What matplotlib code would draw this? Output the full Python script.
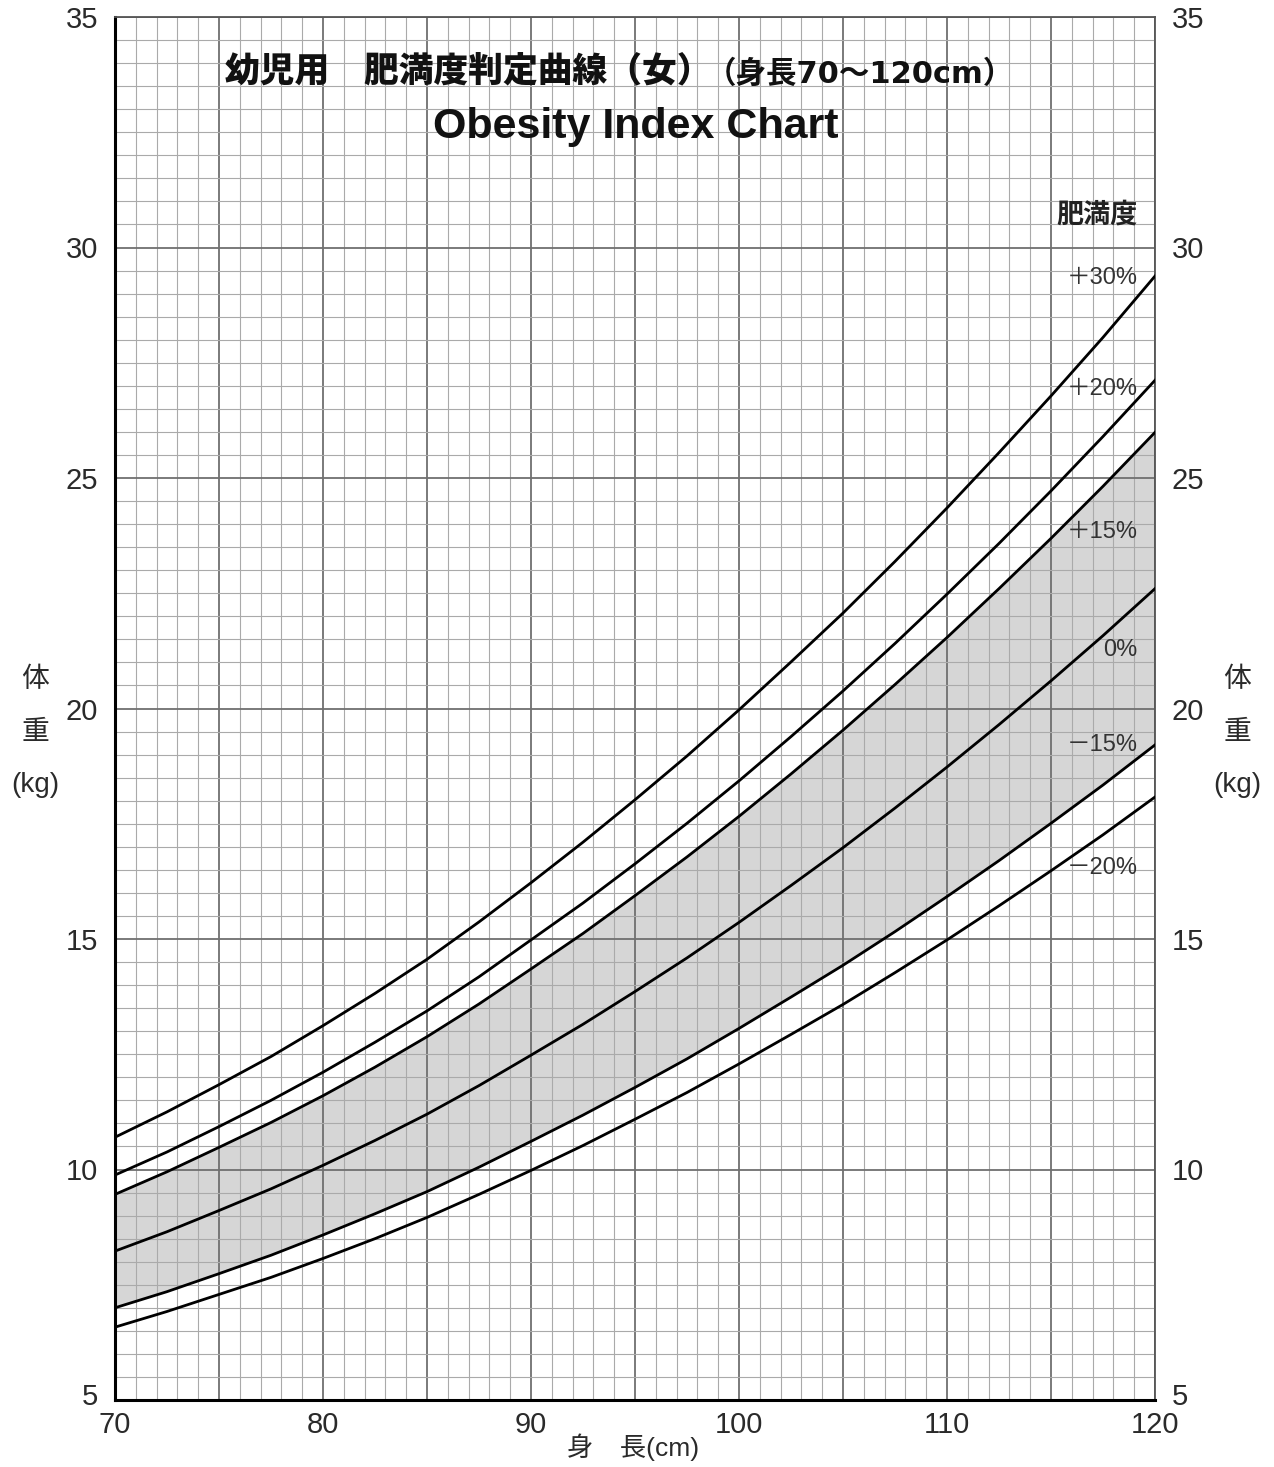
import matplotlib
matplotlib.use("Agg")
import matplotlib.pyplot as plt
import matplotlib.transforms as mtransforms
import numpy as np

# height (cm) and weight (kg) every 2.5 cm
height = [70, 72.5, 75, 77.5, 80, 82.5, 85, 87.5, 90, 92.5, 95,
          97.5, 100, 102.5, 105, 107.5, 110, 112.5, 115, 117.5, 120]
w_p30 = [10.70, 11.25, 11.84, 12.45, 13.12, 13.82, 14.56, 15.37, 16.22, 17.10, 18.02,
         18.97, 19.97, 21.01, 22.07, 23.19, 24.35, 25.55, 26.78, 28.05, 29.38]
w_p20 = [9.88, 10.38, 10.93, 11.50, 12.11, 12.76, 13.44, 14.18, 14.98, 15.78, 16.63,
         17.51, 18.43, 19.39, 20.38, 21.41, 22.48, 23.58, 24.72, 25.90, 27.12]
w_p15 = [9.46, 9.95, 10.48, 11.02, 11.60, 12.22, 12.88, 13.59, 14.35, 15.12, 15.94,
         16.78, 17.66, 18.58, 19.53, 20.52, 21.54, 22.60, 23.69, 24.82, 25.99]
w_0 = [8.23, 8.65, 9.11, 9.58, 10.09, 10.63, 11.20, 11.82, 12.48, 13.15, 13.86,
       14.59, 15.36, 16.16, 16.98, 17.84, 18.73, 19.65, 20.60, 21.58, 22.60]
w_m15 = [7.00, 7.35, 7.74, 8.14, 8.58, 9.04, 9.52, 10.05, 10.61, 11.18, 11.78,
         12.40, 13.06, 13.74, 14.43, 15.16, 15.92, 16.70, 17.51, 18.34, 19.21]
w_m20 = [6.58, 6.92, 7.29, 7.66, 8.07, 8.50, 8.96, 9.46, 9.98, 10.52, 11.09,
         11.67, 12.29, 12.93, 13.58, 14.27, 14.98, 15.72, 16.48, 17.26, 18.08]

curves = [w_p30, w_p20, w_p15, w_0, w_m15, w_m20]
curve_labels = ["＋30%", "＋20%", "＋15%", "0%", "－15%", "－20%"]

x_ticks = [70, 80, 90, 100, 110, 120]
y_ticks = [5, 10, 15, 20, 25, 30, 35]

CJK = ["Noto Sans CJK JP", "DejaVu Sans"]
MIX = ["Liberation Sans", "Noto Sans CJK JP", "DejaVu Sans"]
WIDE = ["DejaVu Sans", "Noto Sans CJK JP"]
plt.rcParams["font.family"] = MIX

fig = plt.figure(figsize=(12.74, 14.67), dpi=100)
W, H = 1274, 1467
ax = fig.add_axes([115 / W, 1 - 1400 / H, (1155 - 115) / W, (1400 - 17) / H])

# shaded normal band (-15% .. +15%)
ax.fill_between(height, w_m15, w_p15, color="#d6d6d6", lw=0, zorder=0.2)

# graph paper
for xv in np.arange(70, 121, 1):
    major = xv % 5 == 0
    ax.axvline(xv, color="#707070" if major else "#aaaaaa",
               lw=1.3 if major else 0.8, zorder=0.5)
for yv in np.arange(5, 35.01, 0.5):
    major = yv % 5 == 0
    ax.axhline(yv, color="#707070" if major else "#aaaaaa",
               lw=1.3 if major else 0.8, zorder=0.5)

for w in curves:
    ax.plot(height, w, color="black", lw=2.0, zorder=3, solid_joinstyle="round")

ax.set_xlim(70, 120)
ax.set_ylim(5, 35)
ax.set_xticks(x_ticks)
ax.set_yticks(y_ticks)
ax.tick_params(length=0, labelsize=21, labelcolor="#2a2a2a")
ax.tick_params(axis="y", pad=12, labelright=True)
ax.tick_params(axis="x", pad=8)

# lift the lowest "5" labels a little so they clear the x labels
fig.canvas.draw()
lift = mtransforms.ScaledTranslation(0, 4 / 72, fig.dpi_scale_trans)
for tick in ax.yaxis.get_major_ticks()[:1]:
    tick.label1.set_transform(tick.label1.get_transform() + lift)
    tick.label2.set_transform(tick.label2.get_transform() + lift)

ax.spines["left"].set_linewidth(2.2)
ax.spines["bottom"].set_linewidth(2.2)
ax.spines["top"].set_color("#555555")
ax.spines["right"].set_color("#555555")
ax.spines["top"].set_linewidth(1.3)
ax.spines["right"].set_linewidth(1.3)

# curve labels
label_pos = [29.34, 26.93, 23.83, 21.27, 19.21, 16.54]
for txt, yv in zip(curve_labels, label_pos):
    ax.text(119.15, yv, txt, ha="right", va="center", fontsize=17,
            family=MIX, color="#333333", zorder=4)
ax.text(117.2, 30.72, "肥満度", ha="center", va="center", fontsize=19.5,
        family=CJK, weight="bold", color="#222222", zorder=4)

# titles
fig.text(225 / W, 1 - 72 / H, "幼児用　肥満度判定曲線（女）", ha="left", va="center",
         fontsize=25, family=CJK, weight="heavy", color="#111111")
fig.text(706 / W, 1 - 74 / H, "（身長70～120cm）", ha="left", va="center",
         fontsize=22, family=WIDE, weight="bold", color="#111111")
fig.text(636 / W, 1 - 127 / H, "Obesity Index Chart", ha="center", va="center",
         fontsize=31, weight="bold", color="#111111")

# axis labels
for xp in (35, 1237):
    for yp, s in zip((680, 733, 785), ("体", "重", "(kg)")):
        fig.text(xp / W, 1 - yp / H, s, ha="center", va="center",
                 fontsize=20, family=MIX, color="#2a2a2a")
fig.text(633 / W, 1 - 1447 / H, "身　長(cm)", ha="center", va="center",
         fontsize=19, family=MIX, color="#2a2a2a")

fig.savefig("out.png", dpi=100, facecolor="white")
